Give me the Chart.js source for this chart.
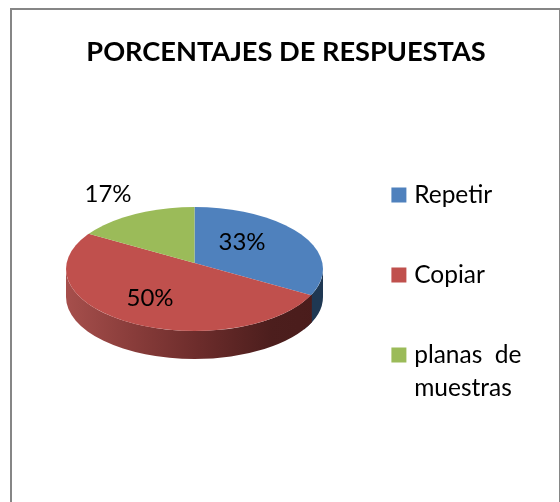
<!DOCTYPE html>
<html>
<head>
<meta charset="utf-8">
<style>
html,body{margin:0;padding:0;background:#fff;overflow:hidden}
#wrap{position:relative;width:560px;height:502px}
#frame{position:absolute;left:10px;top:8px;width:547px;height:500px;border:2px solid #868686;box-sizing:content-box}
canvas{position:absolute;left:0;top:0}
</style>
<script src="https://cdn.jsdelivr.net/npm/chart.js@4"></script>
</head>
<body>
<div id="wrap"><div id="frame"></div><canvas id="c" width="560" height="502"></canvas></div>
<script>
const chartTitle = 'PORCENTAJES DE RESPUESTAS';
const categories = ['Repetir', 'Copiar', ['planas  de', 'muestras']];
const values = [33.3, 50, 16.7];
const colors = ['#4f81bd', '#c0504d', '#9bbb59'];
const FONT = 'Lato, Carlito, Calibri, sans-serif';

// perspective geometry of the tilted disc
const disc = {cx: 194.5, cy: 269, rx: 128.5, ry: 62, apexY: 263, depth: 28};
const labelSpots = [[242, 242], [150, 298], [108, 194]];

function sidePath(ctx, a0, a1) {
  ctx.beginPath();
  ctx.ellipse(disc.cx, disc.cy, disc.rx, disc.ry, 0, a0, a1);
  ctx.ellipse(disc.cx, disc.cy + disc.depth, disc.rx, disc.ry, 0, a1, a0, true);
  ctx.closePath();
}

const tiltPlugin = {
  id: 'tilt',
  beforeDatasetsDraw(chart) {
    const ctx = chart.ctx;
    const x0 = disc.cx - disc.rx, x1 = disc.cx + disc.rx;
    // rim: blue piece, then red piece
    ctx.save();
    ctx.fillStyle = '#1f3853';
    sidePath(ctx, 0, 0.55);
    ctx.fill();
    const g = ctx.createLinearGradient(x0, 0, x1, 0);
    g.addColorStop(0, '#a64f4c');
    g.addColorStop(0.25, '#8a3d3b');
    g.addColorStop(0.5, '#6e2d2c');
    g.addColorStop(0.8, '#4c1e1d');
    g.addColorStop(1, '#4a1c1b');
    ctx.fillStyle = g;
    sidePath(ctx, 0.42, Math.PI);
    ctx.fill();
    ctx.restore();
    // top face: clip to the ellipse, tilt around the off-centre apex
    const arc = chart.getDatasetMeta(0).data[0];
    ctx.save();
    ctx.beginPath();
    ctx.ellipse(disc.cx, disc.cy, disc.rx, disc.ry, 0, 0, Math.PI * 2);
    ctx.clip();
    ctx.translate(disc.cx, disc.apexY);
    ctx.scale(1, disc.ry / disc.rx);
    ctx.translate(-arc.x, -arc.y);
  },
  afterDatasetsDraw(chart) {
    const ctx = chart.ctx;
    ctx.restore();
    ctx.save();
    ctx.fillStyle = '#000';
    ctx.font = '24px ' + FONT;
    ctx.textAlign = 'center';
    ctx.textBaseline = 'middle';
    values.forEach((v, i) => {
      ctx.fillText(Math.round(v) + '%', labelSpots[i][0], labelSpots[i][1]);
    });
    ctx.restore();
  }
};

new Chart(document.getElementById('c'), {
  type: 'pie',
  data: {
    labels: categories,
    datasets: [{data: values, backgroundColor: colors, borderWidth: 0, clip: false}]
  },
  options: {
    responsive: false,
    animation: false,
    radius: 170,
    layout: {padding: {left: 40.5, right: 28.5, top: 0, bottom: 0}},
    events: [],
    plugins: {
      tooltip: {enabled: false},
      title: {
        display: true,
        text: chartTitle,
        color: '#000',
        font: {family: FONT, size: 27.2, weight: 'bold'},
        padding: {top: 36, bottom: 21}
      },
      legend: {
        display: true,
        position: 'right',
        align: 'center',
        fullSize: false,
        labels: {
          color: '#000',
          font: {family: FONT, size: 24.5, lineHeight: 1.35},
          boxWidth: 6,
          boxHeight: 6,
          padding: 55.5,
          generateLabels(chart) {
            return categories.map((t, i) => ({
              text: t, fillStyle: colors[i], strokeStyle: colors[i], lineWidth: 9, index: i
            }));
          }
        }
      }
    }
  },
  plugins: [tiltPlugin]
});
</script>
</body>
</html>
